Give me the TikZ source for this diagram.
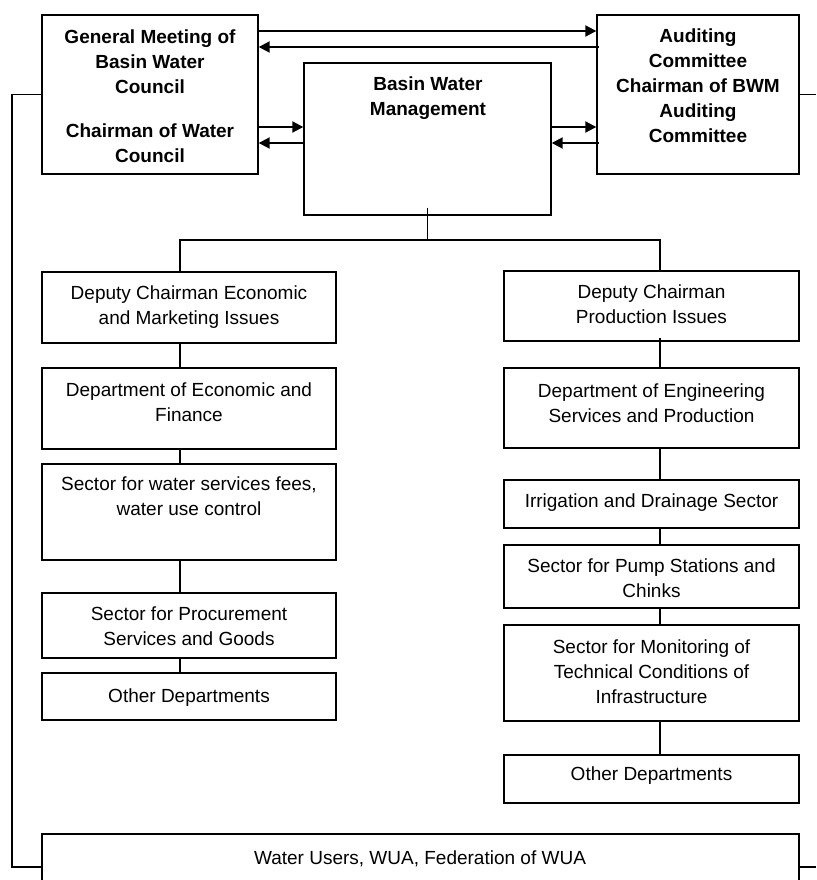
\documentclass[tikz,border=0pt]{standalone}
\usepackage{fontspec}
\setmainfont{Liberation Sans}
\usetikzlibrary{arrows.meta}
\newcommand\fs{\fontsize{19}{25}\selectfont}
\newcommand\st{\rule{0pt}{15pt}}
\tikzset{
  box/.style={draw, line width=1.4pt, rectangle, inner sep=0pt},
  txt/.style={font=\fs, align=center, inner sep=0pt, anchor=north},
  btxt/.style={font=\fs\bfseries, align=center, inner sep=0pt, anchor=north},
  conn/.style={line width=1.3pt},
  arr/.style={line width=2pt},
  tip/.style={-{Triangle[length=11pt,width=11pt]}},
  rtip/.style={{Triangle[length=11pt,width=11pt]}-},
}
\begin{document}
\begin{tikzpicture}[x=1pt,y=-1pt]
\useasboundingbox (0,0) rectangle (816,880);
\clip (0,0) rectangle (816,880);
% boxes
\node[box, minimum width=216, minimum height=159] (gm) at (150,94.5) {};
\node[box, minimum width=202, minimum height=159] (aud) at (698,94.5) {};
\node[box, minimum width=247, minimum height=152] (bwm) at (427.5,139) {};
\node[box, minimum width=294, minimum height=71] (L1) at (189,307.5) {};
\node[box, minimum width=294, minimum height=81] (L2) at (189,408.5) {};
\node[box, minimum width=294, minimum height=96] (L3) at (189,512) {};
\node[box, minimum width=294, minimum height=65] (L4) at (189,625.5) {};
\node[box, minimum width=294, minimum height=47] (L5) at (189,696.5) {};
\node[box, minimum width=295, minimum height=70] (R1) at (651.5,306) {};
\node[box, minimum width=295, minimum height=80] (R2) at (651.5,408) {};
\node[box, minimum width=295, minimum height=48] (R3) at (651.5,504) {};
\node[box, minimum width=295, minimum height=63] (R4) at (651.5,576.5) {};
\node[box, minimum width=295, minimum height=96] (R5) at (651.5,673) {};
\node[box, minimum width=295, minimum height=48] (R6) at (651.5,779) {};
\node[box, minimum width=757, minimum height=66] (wu) at (420.5,867) {};
% texts
\node[btxt] (gmt) at (150,28) {\st General Meeting of\\Basin Water\\Council\\[19pt]Chairman of Water\\Council};
\node[btxt] (audt) at (698,27) {\st Auditing\\Committee\\Chairman of BWM\\Auditing\\Committee};
\node[btxt] (bwmt) at (428,75) {\st Basin Water\\Management};
\node[txt] (L1t) at (189,284) {\st Deputy Chairman Economic\\and Marketing Issues};
\node[txt] (L2t) at (189,381) {\st Department of Economic and\\Finance};
\node[txt] (L3t) at (189,475) {\st Sector for water services fees,\\water use control};
\node[txt] (L4t) at (189,605) {\st Sector for Procurement\\Services and Goods};
\node[txt] (L5t) at (189,687) {\st Other Departments};
\node[txt] (R1t) at (651.5,283) {\st Deputy Chairman\\Production Issues};
\node[txt] (R2t) at (651.5,382) {\st Department of Engineering\\Services and Production};
\node[txt] (R3t) at (651.5,492) {\st Irrigation and Drainage Sector};
\node[txt] (R4t) at (651.5,557) {\st Sector for Pump Stations and\\Chinks};
\node[txt] (R5t) at (651.5,638) {\st Sector for Monitoring of\\Technical Conditions of\\Infrastructure};
\node[txt] (R6t) at (651.5,765) {\st Other Departments};
\node[txt] (wut) at (420,849) {\st Water Users, WUA, Federation of WUA};
% helper coordinates
\coordinate (t1) at (0,31);
\coordinate (t2) at (0,47);
\coordinate (m1) at (0,127);
\coordinate (m2) at (0,143);
\coordinate (lx) at (180,0);
\coordinate (rx) at (660,0);
\coordinate (hy) at (0,240);
\coordinate (lb) at (12,0);
\coordinate (re) at (816,0);
% arrows
\draw[arr,tip] (gm.east |- t1) -- (aud.west |- t1);
\draw[arr,rtip] (gm.east |- t2) -- ([xshift=3pt]aud.west |- t2);
\draw[arr,tip] (gm.east |- m1) -- (bwm.west |- m1);
\draw[arr,rtip] (gm.east |- m2) -- (bwm.west |- m2);
\draw[arr,tip] (bwm.east |- m1) -- (aud.west |- m1);
\draw[arr,rtip] (bwm.east |- m2) -- ([xshift=3pt]aud.west |- m2);
% tree connectors
\draw[conn] ([yshift=8pt]bwm.south) -- (bwm.south |- hy);
\draw[conn] (L1.north -| lx) -- (lx |- hy) -- (rx |- hy) -- (R1.north -| rx);
\draw[conn] (L1.south -| lx) -- (L2.north -| lx);
\draw[conn] (L2.south -| lx) -- (L3.north -| lx);
\draw[conn] (L3.south -| lx) -- (L4.north -| lx);
\draw[conn] (L4.south -| lx) -- (L5.north -| lx);
\draw[conn] ([yshift=4pt]R1.south -| rx) -- (R2.north -| rx);
\draw[conn] (R2.south -| rx) -- (R3.north -| rx);
\draw[conn] (R3.south -| rx) -- (R4.north -| rx);
\draw[conn] (R4.south -| rx) -- (R5.north -| rx);
\draw[conn] (R5.south -| rx) -- (R6.north -| rx);
% side brackets
\draw[conn] (gm.west) -- (gm.west -| lb) -- (wu.west -| lb) -- (wu.west);
\draw[conn] (aud.east) -- (aud.east -| re);
\draw[conn] (wu.east) -- (wu.east -| re);
\end{tikzpicture}
\end{document}
